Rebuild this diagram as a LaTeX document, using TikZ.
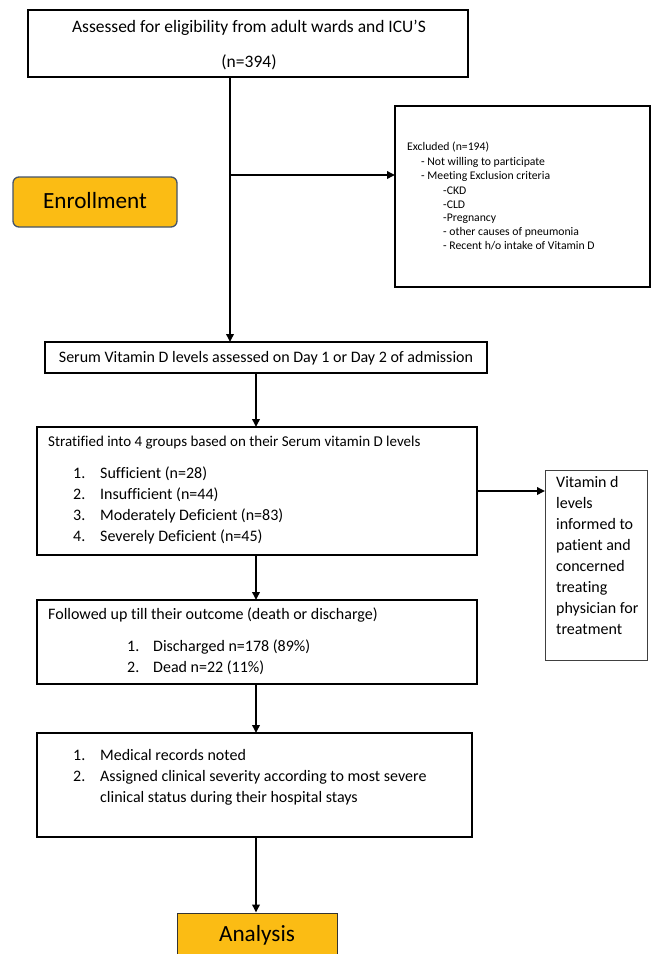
\documentclass[tikz,border=0pt]{standalone}
\usepackage{fontspec}
\setmainfont{Carlito}[Ligatures={NoCommon}]
\usetikzlibrary{arrows.meta,fit}
\definecolor{gold}{HTML}{FBBC14}
\definecolor{slate}{HTML}{44546A}
\begin{document}
\begin{tikzpicture}[x=1pt,y=-1pt,
  box/.style={draw=black,line width=1.4pt,inner sep=0pt,outer sep=0pt},
  thinbox/.style={draw=black!75,line width=1pt,inner sep=0pt,outer sep=0pt},
  arr/.style={line width=1.8pt,-{Triangle[length=8pt,width=7.5pt]}},
  txt/.style={inner sep=0pt,font=\fontsize{16}{19}\selectfont},
  toptxt/.style={inner sep=0pt,font=\fontsize{17.5}{21}\selectfont},
  small/.style={inner sep=0pt,font=\fontsize{11.7}{14}\selectfont,anchor=mid west},
  big/.style={inner sep=0pt,font=\fontsize{23.2}{27}\selectfont}]
\clip (0,0) rectangle (657,954);
\fill[white] (0,0) rectangle (657,954);
% boxes
\node[box,fit={(28,10) (468,77)}] (top) {};
\node[box,line width=1.8pt,fit={(395,106) (650,287)}] (excl) {};
\node[box,fit={(45,342) (487,373)}] (serum) {};
\node[box,fit={(37,427) (477,555)}] (strat) {};
\node[thinbox,fit={(545,470) (647,660)}] (vit) {};
\node[box,fit={(37,600) (477,684)}] (follow) {};
\node[box,fit={(37,733) (472,837)}] (rec) {};
\node[draw=slate,line width=1.3pt,fill=gold,rounded corners=6pt,inner sep=0pt,fit={(13,177) (177,227)}] (enr) {};
\node[draw=black!80,line width=1pt,fill=gold,inner sep=0pt,fit={(177,913) (337,990)}] (ana) {};
% texts
\node[toptxt] (t1) at (249,28) {Assessed for eligibility from adult wards and ICU’S};
\node[toptxt] (t2) at (249,62) {(n=394)};
\node[big] (enrt) at (95,201) {Enrollment};
\node[big] (anat) at (257,935) {Analysis};
\node[small] (e1) at (407,148) {Excluded (n=194)};
\node[small] (e2) at (421,163) {- Not willing to participate};
\node[small] (e3) at (421,177) {- Meeting Exclusion criteria};
\node[small] (e4) at (443,192) {-CKD};
\node[small] (e5) at (443,206) {-CLD};
\node[small] (e6) at (443,219) {-Pregnancy};
\node[small] (e7) at (443,233) {- other causes of pneumonia};
\node[small] (e8) at (443,247) {- Recent h/o intake of Vitamin D};
\node[txt] (st) at (266,358) {Serum Vitamin D levels assessed on Day 1 or Day 2 of admission};
\node[txt,font=\fontsize{15}{18}\selectfont,anchor=mid west] (s0) at (48,444) {Stratified into 4 groups based on their Serum vitamin D levels};
\foreach \t [count=\i from 0] in {Sufficient (n=28),Insufficient (n=44),Moderately Deficient (n=83),Severely Deficient (n=45)}{
  \node[txt,anchor=mid west] (sn\i) at (73,476+21*\i) {\number\numexpr\i+1\relax.};
  \node[txt,anchor=mid west] (sl\i) at (100,476+21*\i) {\t};
}
\foreach \t [count=\i from 0] in {Vitamin d,levels,informed to,patient and,concerned,treating,physician for,treatment}{
  \node[txt,anchor=mid west] (v\i) at (556,485+21*\i) {\t};
}
\node[txt,anchor=mid west] (f0) at (48,617) {Followed up till their outcome (death or discharge)};
\node[txt,anchor=mid west] (fn1) at (127,649) {1.};
\node[txt,anchor=mid west] (fl1) at (153,649) {Discharged n=178 (89\%)};
\node[txt,anchor=mid west] (fn2) at (127,670) {2.};
\node[txt,anchor=mid west] (fl2) at (153,670) {Dead n=22 (11\%)};
\node[txt,anchor=mid west] (rn1) at (73,758) {1.};
\node[txt,anchor=mid west] (rl1) at (100,758) {Medical records noted};
\node[txt,anchor=mid west] (rn2) at (73,779) {2.};
\node[txt,anchor=mid west] (rl2) at (100,779) {Assigned clinical severity according to most severe};
\node[txt,anchor=mid west] (rl3) at (100,800) {clinical status during their hospital stays};
% connectors
\coordinate (trunk) at (230,175);
\coordinate (spine) at (256,0);
\draw[line width=1.8pt] (top.south -| trunk) -- (trunk);
\draw[arr] (trunk) -- (serum.north -| trunk);
\draw[arr] (trunk) -- (trunk -| excl.west);
\draw[arr] (serum.south -| spine) -- (strat.north -| spine);
\draw[arr] (strat.east) -- (vit.west |- strat.east);
\draw[arr] (strat.south -| spine) -- (follow.north -| spine);
\draw[arr] (follow.south -| spine) -- (rec.north -| spine);
\draw[arr] (rec.south -| spine) -- (ana.north -| spine);
\end{tikzpicture}
\end{document}
